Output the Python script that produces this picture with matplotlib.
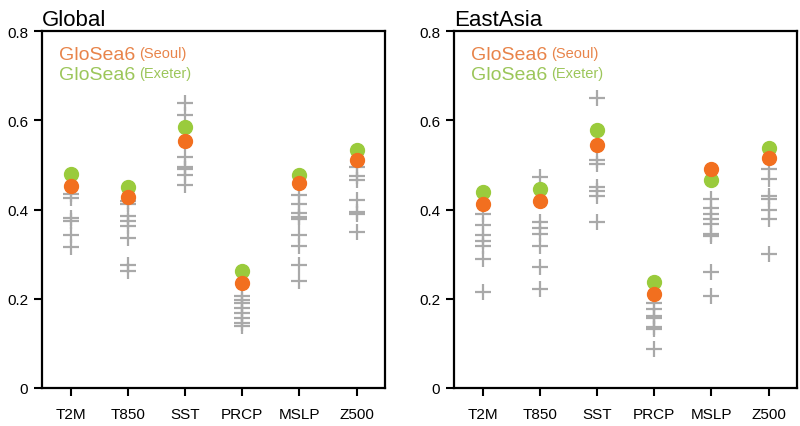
import matplotlib.pyplot as plt

plt.rcParams['font.family'] = ['Liberation Sans', 'DejaVu Sans']

variables = ['T2M', 'T850', 'SST', 'PRCP', 'MSLP', 'Z500']

# Global
glb_seoul = [0.452, 0.428, 0.553, 0.236, 0.459, 0.512]
glb_exeter = [0.479, 0.451, 0.584, 0.263, 0.478, 0.534]
glb_members = [
    [0.434, 0.425, 0.380, 0.375, 0.342, 0.315],
    [0.420, 0.413, 0.386, 0.374, 0.364, 0.336, 0.276, 0.262],
    [0.639, 0.611, 0.517, 0.495, 0.490, 0.478, 0.454],
    [0.207, 0.198, 0.190, 0.179, 0.168, 0.157, 0.146, 0.138],
    [0.433, 0.413, 0.392, 0.383, 0.378, 0.343, 0.319, 0.276, 0.239],
    [0.495, 0.475, 0.467, 0.422, 0.394, 0.389, 0.350],
]

# EastAsia
eas_seoul = [0.413, 0.419, 0.545, 0.211, 0.491, 0.515]
eas_exeter = [0.439, 0.445, 0.579, 0.238, 0.467, 0.538]
eas_members = [
    [0.390, 0.365, 0.342, 0.330, 0.319, 0.289, 0.215],
    [0.472, 0.373, 0.358, 0.345, 0.319, 0.272, 0.222],
    [0.650, 0.511, 0.502, 0.451, 0.441, 0.431, 0.371],
    [0.190, 0.177, 0.161, 0.157, 0.136, 0.133, 0.087],
    [0.424, 0.404, 0.390, 0.379, 0.368, 0.345, 0.340, 0.261, 0.206],
    [0.491, 0.469, 0.430, 0.424, 0.398, 0.379, 0.300],
]

c_seoul = '#f26f1f'
c_exeter = '#9acb3c'
c_member = '#a9a9a9'

fig = plt.figure(figsize=(8, 4.27), dpi=100)
ax1 = fig.add_axes([0.0525, 0.089, 0.429, 0.836])
ax2 = fig.add_axes([0.5675, 0.089, 0.429, 0.836])

x = list(range(1, len(variables) + 1))

for ax, title, seoul, exeter, members in [
        (ax1, 'Global', glb_seoul, glb_exeter, glb_members),
        (ax2, 'EastAsia', eas_seoul, eas_exeter, eas_members)]:
    for i, vals in enumerate(members):
        ax.plot([x[i]] * len(vals), vals, linestyle='none', marker='+',
                markersize=11, markeredgewidth=1.6, color=c_member, zorder=2)
    ax.plot(x, exeter, linestyle='none', marker='o', markersize=10,
            color=c_exeter, zorder=3)
    ax.plot(x, seoul, linestyle='none', marker='o', markersize=10,
            color=c_seoul, zorder=4)

    ax.set_xlim(0.5, 6.5)
    ax.set_ylim(0, 0.8)
    ax.set_xticks(x)
    ax.set_xticklabels(variables)
    ax.set_yticks([0, 0.2, 0.4, 0.6, 0.8])
    ax.set_yticklabels(['0', '0.2', '0.4', '0.6', '0.8'])
    ax.tick_params(direction='out', length=6, width=1.5, labelsize=11, pad=4)
    ax.tick_params(axis='x', pad=8)
    for s in ax.spines.values():
        s.set_linewidth(1.6)
    ax.set_title(title, loc='left', fontsize=16, pad=4)

    t1 = ax.text(0.05, 0.935, 'GloSea6', transform=ax.transAxes, fontsize=14,
                 color='#e8844a', va='center', ha='left')
    ax.annotate('(Seoul)', xy=(1, 1), xycoords=t1, xytext=(3, 0),
                textcoords='offset points', fontsize=10.5, color='#e8844a',
                va='top', ha='left')
    t2 = ax.text(0.05, 0.877, 'GloSea6', transform=ax.transAxes, fontsize=14,
                 color='#9cc65a', va='center', ha='left')
    ax.annotate('(Exeter)', xy=(1, 1), xycoords=t2, xytext=(3, 0),
                textcoords='offset points', fontsize=10.5, color='#9cc65a',
                va='top', ha='left')

fig.savefig('out.png', dpi=100)
